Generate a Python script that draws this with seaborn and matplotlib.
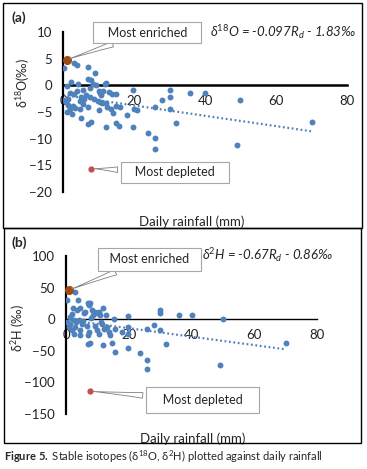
import numpy as np
import pandas as pd
import matplotlib
matplotlib.use('Agg')
import matplotlib.pyplot as plt
from matplotlib.patches import Rectangle
import seaborn as sns

# panel (a): daily rainfall (mm) vs d18O (permil)
rain_a = [0.3, 3, 4, 7, 9, 7, 8, 8.5, 9.4, 12, 11.3, 13, 1, 2.3, 4.2, 3.8, 1.9, 5.6, 7.5, 10,
          10.8, 10.3, 15, 19.8, 30, 35.8, 40, 30, 28, 0, 0.8, 1.4, 4.7, 6, 7.5, 2.8, 1.9, 2.4,
          4.7, 7, 10, 10.3, 12, 13.6, 14, 16, 18, 20, 20.7, 25.9, 30, 5.2, 7, 8, 12, 14.9,
          15.8, 19.8, 31.8, 24, 25.9, 25.9, 49.9, 49, 70, 1.5, 2, 3.5, 5.5, 6.5, 8.8, 9.8,
          11, 12.5, 15, 5, 3, 1, 13.7, 11.8]
d18o = [3.3, 4.2, 3.8, 3.4, 2.3, 1.1, 1.0, 0.3, 0.0, 0.4, -1.0, -1.3, -0.1, 0.6, 0.3, -1.0,
        -1.4, -0.8, -0.5, -1.0, -1.9, -1.5, -1.6, -0.8, -0.8, -1.4, -1.4, -2.2, -2.8, -2.8,
        -3.1, -2.5, -2.9, -2.5, -2.2, -3.8, -4.4, -5.3, -4.4, -4.1, -4.7, -3.1, -3.4, -4.4,
        -5.2, -4.1, -5.6, -4.4, -4.7, -4.1, -4.5, -6.1, -7.2, -6.9, -7.8, -7.1, -7.7, -7.9,
        -7.0, -8.9, -9.8, -12.0, -2.7, -11.2, -6.8, -3.6, -4.0, -4.3, -3.5, -1.8, -2.6, -3.0,
        -3.3, -4.0, -3.8, -2.1, -1.6, -5.0, -1.6, 0.3]

# panel (b): daily rainfall (mm) vs d2H (permil)
rain_b = [2.8, 0.3, 3.8, 2.2, 3.5, 4.6, 6.9, 7.2, 7.8, 6.2, 8.3, 9.4, 9.9, 10.4, 11.8, 12.8,
          10.9, 8.6, 19.8, 29.9, 29.9, 35.9, 40, 50, 0.3, 1.4, 2.4, 0.9, 1.9, 3, 4, 5.1, 4.6,
          4.6, 2.4, 6.7, 7.2, 6.9, 9.4, 9.9, 10.4, 11.5, 12.1, 13.1, 13.6, 13.9, 15.2, 15.7,
          17.9, 19.8, 19.8, 25.8, 27.9, 29.9, 6.9, 7.8, 11.8, 14.7, 15.7, 19.8, 23.7, 25.8,
          25.8, 32, 49, 70.2, 1.2, 3.2, 5.5, 8.0, 11.0, 2.0, 5.8]
d2h = [43, 31, 30, 18, 15, 17, 26, 22, 25, 12, 14, 12, 9, 12, 18, 7, 6, 6, 5, 15, 10, 6, 6,
       -0.5, -4, 4, -2, -12, -17, -12, -2, -7, -17, -25, -23, -11, -20, -25, -11, -17, -23,
       -7, -15, -12, -20, -25, 1, -16, -20, -12, -23, -16, -9, -17, -40, -37, -41, -38, -52,
       -45, -54, -65, -79, -40, -73, -38, -8, -5, -3, 2, -4, 8, 10]

enriched_a = (1, 4.8)
depleted_a = (8, -15.6)
enriched_b = (0.9, 46)
depleted_b = (7.8, -114)

blue = '#4F81BD'
brown = '#9E4A12'
red = '#C0504D'

sns.set_style('white')
plt.rcParams['font.family'] = ['Lato', 'DejaVu Sans']
plt.rcParams['mathtext.fontset'] = 'custom'
plt.rcParams['mathtext.rm'] = 'Lato'
plt.rcParams['mathtext.it'] = 'Lato:italic'
plt.rcParams['mathtext.bf'] = 'Lato:bold'

fig = plt.figure(figsize=(3.67, 4.69), dpi=100)
ax_a = fig.add_axes([0.1717, 0.5906, 0.774, 0.3412])
ax_b = fig.add_axes([0.1798, 0.1173, 0.684, 0.3369])


def draw_panel(ax, x, y, slope, icpt, enr, dep, ylim, yticks, xlw):
    df = pd.DataFrame({'rain': x, 'iso': y})
    sns.scatterplot(data=df, x='rain', y='iso', ax=ax, color=blue, s=18,
                    linewidth=0, zorder=3)
    xs = np.linspace(0, max(x), 50)
    ax.plot(xs, slope * xs + icpt, color=blue, lw=1.6, ls=(0, (0.8, 1.2)), zorder=2)
    ax.scatter([enr[0]], [enr[1]], color=brown, s=30, zorder=4, clip_on=False)
    ax.scatter([dep[0]], [dep[1]], color=red, s=12, zorder=4)
    ax.set_xlim(0, 80)
    ax.set_ylim(*ylim)
    ax.set_xticks([0, 20, 40, 60, 80])
    ax.set_yticks(yticks)
    for s in ['top', 'right']:
        ax.spines[s].set_visible(False)
    ax.spines['left'].set_position(('data', 0))
    ax.spines['bottom'].set_position(('data', 0))
    ax.spines['left'].set_linewidth(1.6)
    ax.spines['bottom'].set_linewidth(xlw)
    ax.spines['left'].set_color('black')
    ax.spines['bottom'].set_color('black')
    ax.tick_params(axis='both', length=0, labelsize=9.5, colors='#222222')
    ax.tick_params(axis='x', pad=7)
    ax.tick_params(axis='y', pad=8)
    ax.set_facecolor('none')


draw_panel(ax_a, rain_a, d18o, -0.097, -1.83, enriched_a, depleted_a,
           (-20, 10), [10, 5, 0, -5, -10, -15, -20], 1.8)
draw_panel(ax_b, rain_b, d2h, -0.67, -0.86, enriched_b, depleted_b,
           (-150, 100), [100, 50, 0, -50, -100, -150], 1.0)

ax_a.set_xlabel('Daily rainfall (mm)', fontsize=9.5)
ax_a.xaxis.set_label_coords(0.454, -0.144)
ax_a.set_ylabel('δ$^{18}$O(‰)', fontsize=9)
ax_a.yaxis.set_label_coords(-0.109, 0.68)
ax_b.set_xlabel('Daily rainfall (mm)', fontsize=9.5)
ax_b.xaxis.set_label_coords(0.506, -0.114)
ax_b.set_ylabel('δ$^{2}$H (‰)', fontsize=9)
ax_b.yaxis.set_label_coords(-0.155, 0.544)

box = dict(boxstyle='square,pad=0.35', fc='white', ec='#A6A6A6', lw=0.8)
wedge = dict(arrowstyle='wedge,tail_width=0.45,shrink_factor=0.4', fc='white',
             ec='#7F7F7F', lw=0.6)

ax_a.annotate('   Most enriched   ', xy=enriched_a, xytext=(23.7, 9.9), fontsize=9,
              ha='center', va='center', bbox=box, arrowprops=wedge,
              annotation_clip=False, zorder=5)
ax_a.annotate('   Most depleted   ', xy=depleted_a, xytext=(31.5, -16.3), fontsize=9,
              ha='center', va='center', bbox=box, arrowprops=wedge,
              annotation_clip=False, zorder=5)
ax_b.annotate('  Most enriched  ', xy=enriched_b, xytext=(26.6, 95), fontsize=9,
              ha='center', va='center', bbox=dict(boxstyle='square,pad=0.45', fc='white',
                                                  ec='#A6A6A6', lw=0.8),
              arrowprops=wedge, annotation_clip=False, zorder=5)
ax_b.annotate('   Most depleted   ', xy=depleted_b, xytext=(43.5, -128), fontsize=9,
              ha='center', va='center', bbox=dict(boxstyle='square,pad=0.55', fc='white',
                                                  ec='#A6A6A6', lw=0.8),
              arrowprops=wedge, annotation_clip=False, zorder=5)

ax_a.text(41.4, 10, 'δ$^{18}$O = -0.097R$_d$ - 1.83‰', fontsize=9.5, style='italic',
          va='center', ha='left', clip_on=False)
ax_b.text(43.3, 101, 'δ$^{2}$H = -0.67R$_d$ - 0.86‰', fontsize=9.5, style='italic',
          va='center', ha='left', clip_on=False)

fig.text(0.030, 0.962, '(a)', fontsize=10, fontweight='bold', va='center')
fig.text(0.030, 0.482, '(b)', fontsize=10, fontweight='bold', va='center')

fig.add_artist(Rectangle((0.0082, 0.5139), 0.978, 0.4797, transform=fig.transFigure,
                         fill=False, lw=1.0, ec='black'))
fig.add_artist(Rectangle((0.011, 0.0554), 0.973, 0.4585, transform=fig.transFigure,
                         fill=False, lw=1.0, ec='black'))

fig.text(0.011, 0.0256,
         r'$\mathbf{Figure\ 5.}$ Stable isotopes (δ$^{18}$O, δ$^{2}$H) plotted against daily rainfall',
         fontsize=8, va='center', ha='left')

fig.savefig('out.png', dpi=100)
